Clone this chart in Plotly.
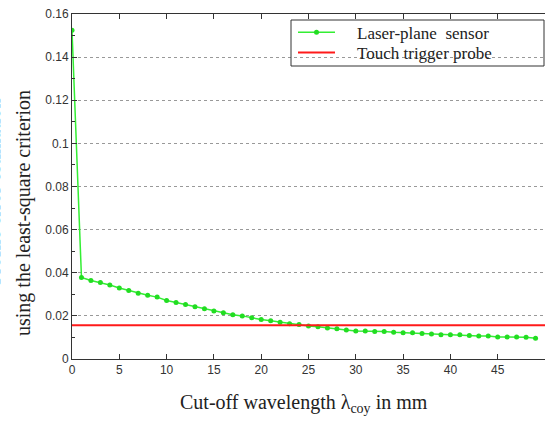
import plotly.graph_objects as go

cutoff_mm = list(range(0, 50))
laser_plane = [0.1525, 0.0378, 0.0364, 0.0355, 0.0343, 0.0329, 0.0318, 0.0305, 0.0296, 0.0287,
               0.0271, 0.0262, 0.0253, 0.0242, 0.0233, 0.0223, 0.0214, 0.0205, 0.0200, 0.0191,
               0.0183, 0.0177, 0.0171, 0.0164, 0.0160, 0.0153, 0.0150, 0.0144, 0.0140, 0.0135,
               0.0130, 0.0130, 0.0127, 0.0127, 0.0124, 0.0122, 0.0122, 0.0118, 0.0116, 0.0113,
               0.0112, 0.0112, 0.0109, 0.0107, 0.0107, 0.0102, 0.0102, 0.0102, 0.0101, 0.0096]
touch_probe_value = 0.0157
x_range = [0, 50]
y_range = [0, 0.16]
x_ticks = [0, 5, 10, 15, 20, 25, 30, 35, 40, 45]
y_ticks = [0, 0.02, 0.04, 0.06, 0.08, 0.1, 0.12, 0.14, 0.16]
y_tick_labels = ["0", "0.02", "0.04", "0.06", "0.08", "0.1", "0.12", "0.14", "0.16"]

serif = "Liberation Serif, Times New Roman, serif"
sans = "Liberation Sans, Arial, sans-serif"
pad = "\u00a0" * 4

fig = go.Figure()
fig.add_trace(go.Scatter(
    x=cutoff_mm, y=laser_plane, mode="lines+markers", name=pad + "Laser-plane  sensor",
    line=dict(color="#33ee33", width=1.5),
    marker=dict(color="#22dd22", size=5, symbol="circle"),
    legend="legend",
))
fig.add_trace(go.Scatter(
    x=[x_range[0], x_range[1]], y=[touch_probe_value, touch_probe_value], mode="lines",
    name=pad + "Touch trigger probe", line=dict(color="#ff1a1a", width=2),
    legend="legend2",
))

legend_common = dict(x=(293 - 72) / 473, xanchor="left", yanchor="top",
                     bgcolor="rgba(0,0,0,0)", borderwidth=0,
                     font=dict(family=serif, size=17, color="#222"),
                     itemwidth=37, tracegroupgap=0)

fig.update_layout(
    width=545, height=421,
    margin=dict(l=72, r=0, t=14, b=62),
    paper_bgcolor="white", plot_bgcolor="white",
    showlegend=True,
    legend=dict(legend_common, y=0.998),
    legend2=dict(legend_common, y=(359 - 35) / 345),
    xaxis=dict(range=x_range, tickvals=x_ticks, ticks="inside", ticklen=5,
               tickcolor="#333", showline=True, linecolor="#333", linewidth=1,
               mirror="ticks", showgrid=False, zeroline=False,
               tickfont=dict(family=sans, size=12, color="#333")),
    yaxis=dict(range=y_range, tickvals=y_ticks, ticktext=y_tick_labels, ticks="inside",
               ticklen=5, tickcolor="#333", showline=True, linecolor="#333", linewidth=1,
               mirror=False, showgrid=True, gridcolor="#999", griddash="dot", gridwidth=1,
               zeroline=False, tickfont=dict(family=sans, size=12, color="#333"),
               minor=dict(tickvals=[0.01, 0.03, 0.05, 0.07, 0.09, 0.11, 0.13, 0.15],
                          ticks="inside", ticklen=3, tickcolor="#333", showgrid=False)),
    shapes=[dict(type="rect", xref="paper", yref="paper",
                 x0=(291 - 72) / 473, x1=(544 - 72) / 473,
                 y0=(359 - 66) / 345, y1=(359 - 20) / 345,
                 line=dict(color="#333", width=1), fillcolor="rgba(0,0,0,0)")],
    annotations=[
        dict(text="Cut-off wavelength λ<sub>coy</sub> in mm", x=(304 - 72) / 473, y=0,
             xref="paper", yref="paper", xanchor="center", yanchor="middle", yshift=-44,
             showarrow=False, font=dict(family=serif, size=20, color="#222")),
        dict(text="using the least-square criterion", x=0, y=(359 - 213) / 345, xref="paper",
             yref="paper", xanchor="center", yanchor="middle", xshift=-49, textangle=-90,
             showarrow=False, font=dict(family=serif, size=20, color="#222")),
        dict(text="Profile error estimation", x=0, y=(359 - 192) / 345, xref="paper",
             yref="paper", xanchor="center", yanchor="middle", xshift=-79, textangle=-90,
             showarrow=False, font=dict(family=serif, size=20, color="#222")),
    ],
)

fig.write_html("out.html", config={"displayModeBar": False},
               post_script="document.body.style.margin='0';document.body.style.overflow='hidden';")
